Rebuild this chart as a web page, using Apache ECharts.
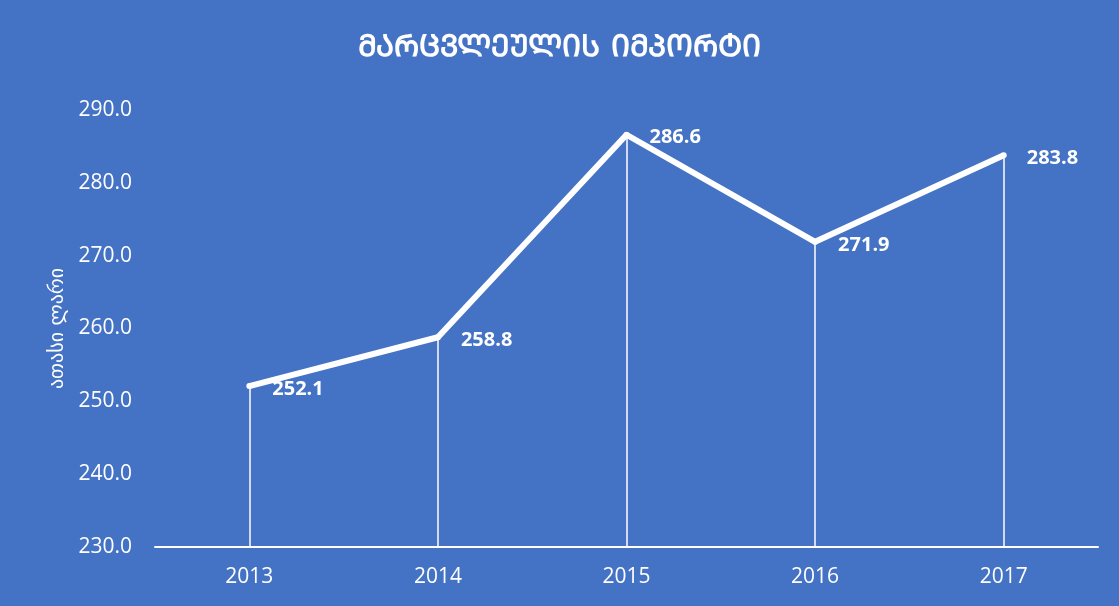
<!DOCTYPE html>
<html>
<head>
<meta charset="utf-8">
<script src="https://cdn.jsdelivr.net/npm/echarts@6/dist/echarts.min.js"></script>
<style>
html,body{margin:0;padding:0;background:#4472C4;}
#chart{width:1119px;height:606px;}
</style>
</head>
<body>
<div id="chart"></div>
<script>
const titleText = 'ᲛᲐᲠᲪᲕᲚᲔᲣᲚᲘᲡ ᲘᲛᲞᲝᲠᲢᲘ';
const yAxisName = 'ათასი ლარი';
const years = ['2013', '2014', '2015', '2016', '2017'];
const values = [252.1, 258.8, 286.6, 271.9, 283.8];
const yMin = 230, yMax = 290, yStep = 10;

const chart = echarts.init(document.getElementById('chart'));
const dropLines = years.map((y, i) => [
  { coord: [i, yMin] },
  { coord: [i, values[i]] }
]);
chart.setOption({
  backgroundColor: '#4472C4',
  title: {
    text: titleText,
    left: 'center',
    top: 28,
    textStyle: { color: '#ffffff', fontSize: 30, fontWeight: 'bold', fontFamily: 'DejaVu Sans' }
  },
  grid: { left: 155, right: 21, top: 110, bottom: 59 },
  xAxis: {
    type: 'category',
    data: years,
    boundaryGap: true,
    axisLine: { lineStyle: { color: '#ffffff', width: 2 } },
    axisTick: { show: false },
    axisLabel: { color: '#ffffff', fontSize: 21, margin: 20, fontFamily: 'Open Sans' }
  },
  yAxis: {
    type: 'value',
    min: yMin, max: yMax, interval: yStep,
    name: yAxisName,
    nameLocation: 'middle',
    nameGap: 82,
    nameTextStyle: { color: '#ffffff', fontSize: 20, fontFamily: 'DejaVu Sans' },
    axisLine: { show: false },
    axisTick: { show: false },
    splitLine: { show: false },
    axisLabel: {
      color: '#ffffff', fontSize: 21, margin: 23, fontFamily: 'Open Sans',
      formatter: v => v.toFixed(1)
    }
  },
  series: [{
    type: 'line',
    data: values,
    symbol: 'circle',
    symbolSize: 6,
    itemStyle: { color: '#ffffff' },
    lineStyle: { color: '#ffffff', width: 6 },
    label: {
      show: true,
      position: 'right',
      distance: 20,
      offset: [0, 3],
      color: '#ffffff',
      fontSize: 20,
      fontWeight: 'bold',
      fontFamily: 'Open Sans',
      formatter: p => p.value.toFixed(1)
    },
    markLine: {
      silent: true,
      symbol: 'none',
      label: { show: false },
      lineStyle: { color: '#ffffff', width: 1.5, type: 'solid' },
      data: dropLines,
      z: 1
    },
    z: 3
  }]
});
</script>
</body>
</html>
